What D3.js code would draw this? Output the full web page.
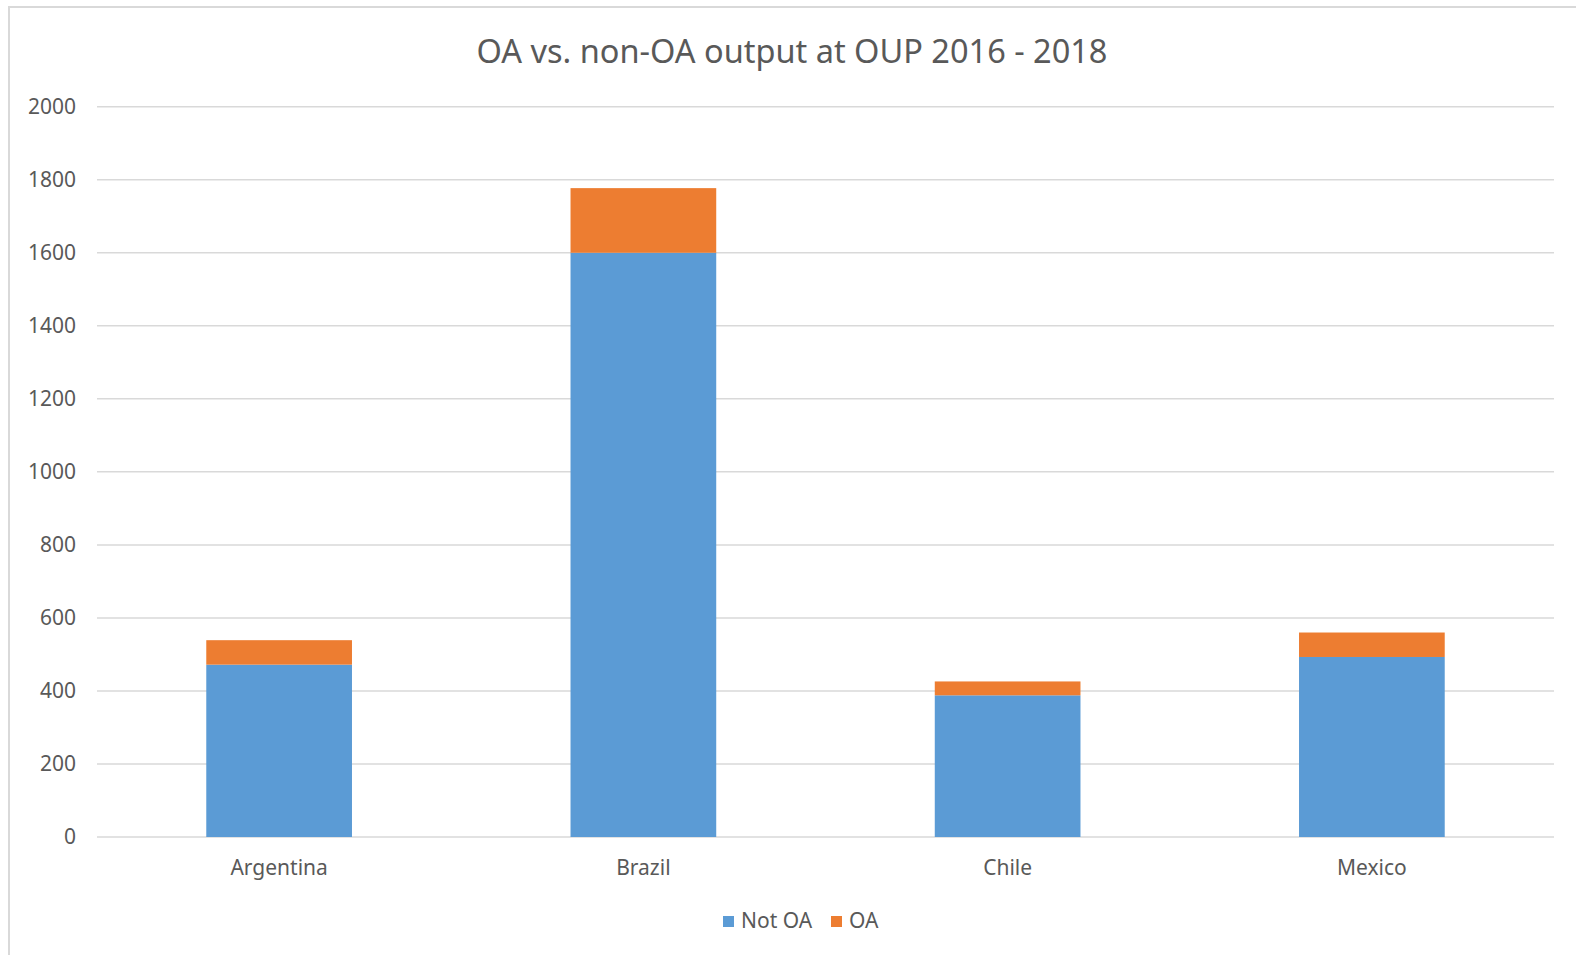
<!DOCTYPE html>
<html>
<head>
<meta charset="utf-8">
<title>OA vs. non-OA output at OUP 2016 - 2018</title>
<script src="https://cdn.jsdelivr.net/npm/d3@7/dist/d3.min.js"></script>
<style>
  html, body { margin: 0; padding: 0; background: #ffffff; }
  svg { display: block; }
  text { font-family: "Noto Sans", "Open Sans", sans-serif; fill: #595959; }
</style>
</head>
<body>
<script>
// Data
var countries = ["Argentina", "Brazil", "Chile", "Mexico"];
var notOA = [472, 1600, 388, 493];
var oa = [67, 177, 38, 67];
var seriesNames = ["Not OA", "OA"];
var seriesColors = ["#5B9BD5", "#ED7D31"];
var yTicks = [0, 200, 400, 600, 800, 1000, 1200, 1400, 1600, 1800, 2000];

window.onload = function() {
  var w = 1576;
  var h = 955;
  var margin = { left: 97, right: 22, top: 106.7, bottom: 118 };

  var svg = d3.select("body").append("svg").attr("width", w).attr("height", h);

  // Outer chart border (only left and top edges are visible in the frame)
  svg.append("rect")
     .attr("x", 9).attr("y", 7)
     .attr("width", w + 20).attr("height", h + 20)
     .attr("fill", "none").attr("stroke", "#d9d9d9").attr("stroke-width", 2);

  // Title
  svg.append("text")
     .attr("x", 792).attr("y", 63)
     .attr("text-anchor", "middle")
     .style("font-size", "32.5px")
     .text("OA vs. non-OA output at OUP 2016 - 2018");

  // Scales
  var xScale = d3.scaleBand()
                 .domain(countries)
                 .range([margin.left, w - margin.right])
                 .paddingInner(0.6)
                 .paddingOuter(0.3);
  var yScale = d3.scaleLinear()
                 .domain([0, 2000])
                 .range([h - margin.bottom, margin.top]);

  // Gridlines
  svg.append("g").selectAll("line").data(yTicks).enter().append("line")
     .attr("x1", margin.left).attr("x2", w - margin.right)
     .attr("y1", function(d) { return yScale(d); })
     .attr("y2", function(d) { return yScale(d); })
     .attr("stroke", "#d9d9d9").attr("stroke-width", 1.5);

  // Y axis labels
  var yAxis = d3.axisLeft(yScale).tickValues(yTicks).tickFormat(d3.format("d"))
                .tickSize(0).tickPadding(0);
  var yg = svg.append("g")
              .attr("transform", "translate(76, 0)")
              .call(yAxis);
  yg.select(".domain").remove();
  yg.selectAll("text").style("font-size", "21px").attr("fill", "#595959")
    .attr("font-family", "Noto Sans");

  // Stacked data
  var rows = countries.map(function(c, i) {
    return { country: c, "Not OA": notOA[i], "OA": oa[i] };
  });
  var stack = d3.stack().keys(seriesNames)(rows);

  svg.append("g").selectAll("g").data(stack).enter().append("g")
     .attr("fill", function(d, i) { return seriesColors[i]; })
     .selectAll("rect").data(function(d) { return d; }).enter().append("rect")
     .attr("x", function(d) { return xScale(d.data.country); })
     .attr("width", xScale.bandwidth())
     .attr("y", function(d) { return yScale(d[1]); })
     .attr("height", function(d) { return yScale(d[0]) - yScale(d[1]); });

  // X axis labels
  var xAxis = d3.axisBottom(xScale).tickSize(0).tickPadding(0);
  var xg = svg.append("g")
              .attr("transform", "translate(0, 860)")
              .call(xAxis);
  xg.select(".domain").remove();
  xg.selectAll("text").style("font-size", "21px").attr("fill", "#595959")
    .attr("font-family", "Noto Sans");

  // Legend
  var legendX = [723, 831];
  var legend = svg.append("g").selectAll("g").data(seriesNames).enter().append("g")
                  .attr("transform", function(d, i) { return "translate(" + legendX[i] + ", 916)"; });
  legend.append("rect")
        .attr("width", 11).attr("height", 11)
        .attr("fill", function(d, i) { return seriesColors[i]; });
  legend.append("text")
        .attr("x", 18).attr("y", 12)
        .style("font-size", "21px")
        .text(function(d) { return d; });
};
</script>
</body>
</html>
